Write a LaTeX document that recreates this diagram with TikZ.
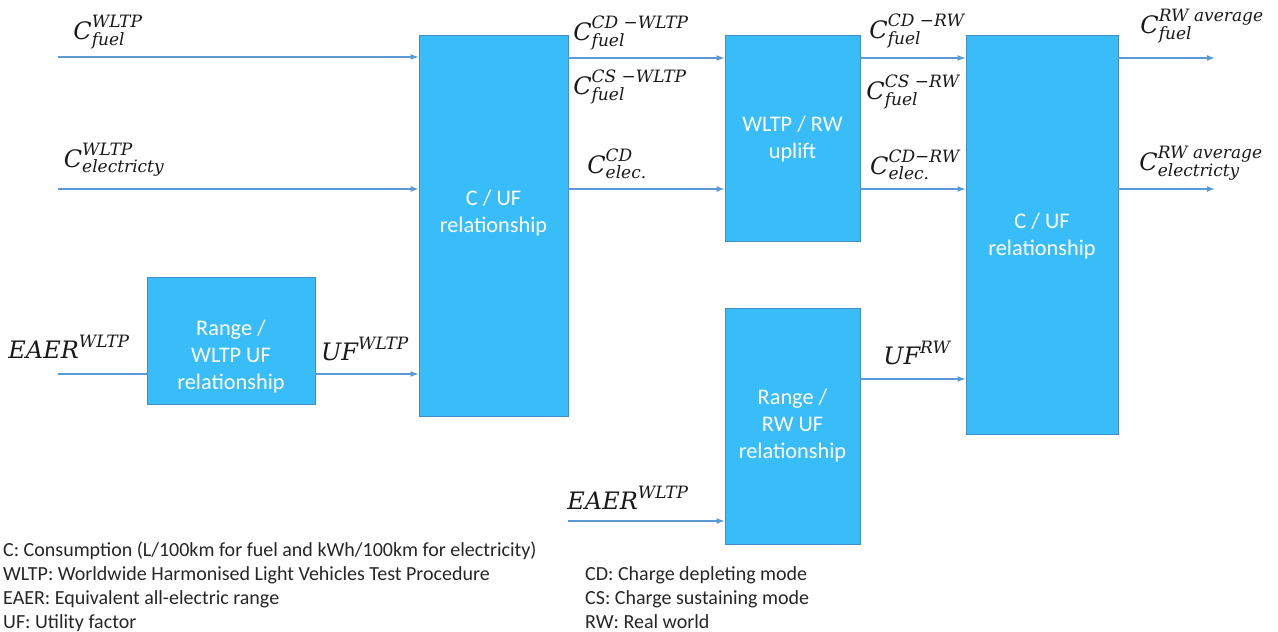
\RequirePackage{fix-cm}
\documentclass[tikz,border=0pt]{standalone}
\usepackage{fontspec}
\setmainfont{Carlito}
\newfontfamily\labfam{DejaVu Serif}
\usetikzlibrary{arrows.meta}
\definecolor{boxfill}{RGB}{56,189,248}
\definecolor{boxline}{RGB}{70,140,200}
\definecolor{arr}{RGB}{91,155,213}
\definecolor{legendtext}{RGB}{38,38,38}
\newcommand\labmain[1]{\mbox{\fontsize{24}{28}\selectfont\labfam\itshape #1}}
\newcommand\labscr[1]{\mbox{\fontsize{17}{20}\selectfont\labfam\itshape #1}}
\newcommand\mlab[3]{$\labmain{#1}^{\labscr{#3}}_{\labscr{#2}}$}
\newcommand\slab[2]{$\labmain{#1}^{\labscr{#2}}$}
\begin{document}
\begin{tikzpicture}[x=1pt,y=-1pt,
  box/.style={draw=boxline, line width=0.8pt, fill=boxfill, inner sep=0pt},
  boxtext/.style={text=white, font=\fontsize{22.3}{27}\selectfont, align=center, inner sep=0pt},
  conn/.style={draw=arr, line width=1.2pt, -{Latex[length=8pt,width=6pt]}},
  plainline/.style={draw=arr, line width=1.2pt},
  lab/.style={font=\fontsize{22}{26}\selectfont, inner sep=0pt, text=black!90},
  legend/.style={font=\fontsize{20}{24}\selectfont, anchor=base west, inner sep=0pt, text=legendtext}]
\useasboundingbox (0,0) rectangle (1278,632);

% boxes
\node[box, minimum width=168pt, minimum height=127pt] (A) at (231,340.5) {};
\node[box, minimum width=149pt, minimum height=381pt] (B) at (493.5,225.5) {};
\node[box, minimum width=135pt, minimum height=206pt] (C) at (792.5,138) {};
\node[box, minimum width=135pt, minimum height=236pt] (D) at (792.5,426) {};
\node[box, minimum width=152pt, minimum height=399pt] (E) at (1042,234.5) {};

\node[boxtext] (At) at (231,357) {Range /\\WLTP UF\\relationship};
\node[boxtext] (Bt) at (493.5,213) {C / UF\\relationship};
\node[boxtext] (Ct) at (792.5,139.5) {WLTP / RW\\uplift};
\node[boxtext] (Dt) at (792.5,426) {Range /\\RW UF\\relationship};
\node[boxtext] (Et) at (1042,236) {C / UF\\relationship};

% row coordinates
\coordinate (in1) at (58,57);
\coordinate (in2) at (58,189);
\coordinate (in3) at (58,374);
\coordinate (r1) at (0,58);
\coordinate (r2) at (0,189);
\coordinate (r4) at (0,379);
\coordinate (e2) at (568,521);
\coordinate (o1) at (1215,58);
\coordinate (o2) at (1215,189);

% connectors
\draw[conn] (in1) -- (in1 -| B.west);
\draw[conn] (in2) -- (in2 -| B.west);
\draw[plainline] (in3) -- (in3 -| A.west);
\draw[conn] (A.east |- in3) -- (B.west |- in3);
\draw[conn] (B.east |- r1) -- (C.west |- r1);
\draw[conn] (B.east |- r2) -- (C.west |- r2);
\draw[conn] (C.east |- r1) -- (E.west |- r1);
\draw[conn] (C.east |- r2) -- (E.west |- r2);
\draw[conn] (D.east |- r4) -- (E.west |- r4);
\draw[conn] (e2) -- (e2 -| D.west);
\draw[conn] (E.east |- o1) -- (o1);
\draw[conn] (E.east |- o2) -- (o2);

% labels
\node[lab] (l1) at (108,32) {\mlab{C}{fuel}{WLTP}};
\node[lab] (l2) at (114,160) {\mlab{C}{electricty}{WLTP}};
\node[lab] (l3) at (69,347) {\slab{EAER}{WLTP}};
\node[lab] (l4) at (365,349) {\slab{UF}{WLTP}};
\node[lab] (l5) at (631,33) {\mlab{C}{fuel}{CD −WLTP}};
\node[lab] (l6) at (630,87) {\mlab{C}{fuel}{CS −WLTP}};
\node[lab] (l7) at (617,164) {\mlab{C}{elec.}{CD}};
\node[lab] (l8) at (917,31) {\mlab{C}{fuel}{CD −RW}};
\node[lab] (l9) at (913,92) {\mlab{C}{fuel}{CS −RW}};
\node[lab] (l10) at (915,165) {\mlab{C}{elec.}{CD−RW}};
\node[lab] (l11) at (1202,26) {\mlab{C}{fuel}{RW average}};
\node[lab] (l12) at (1201,163) {\mlab{C}{electricty}{RW average}};
\node[lab] (l13) at (917,353) {\slab{UF}{RW}};
\node[lab] (l14) at (628,498) {\slab{EAER}{WLTP}};

% legend
\node[legend] (g1) at (3,556) {C: Consumption (L/100km for fuel and kWh/100km for electricity)};
\node[legend] (g2) at (3,580) {WLTP: Worldwide Harmonised Light Vehicles Test Procedure};
\node[legend] (g3) at (3,604) {EAER: Equivalent all-electric range};
\node[legend] (g4) at (3,628) {UF: Utility factor};
\node[legend] (g5) at (585,580) {CD: Charge depleting mode};
\node[legend] (g6) at (585,604) {CS: Charge sustaining mode};
\node[legend] (g7) at (585,628) {RW: Real world};
\end{tikzpicture}
\end{document}
